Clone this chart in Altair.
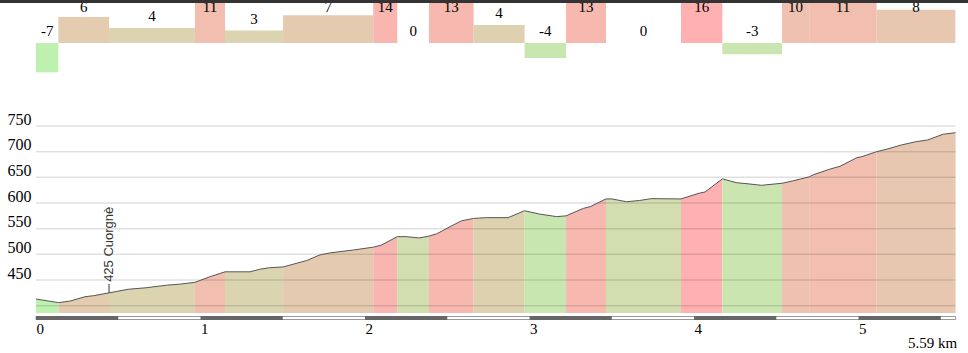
import altair as alt
import pandas as pd
import numpy as np

# ---- data ----
total_km = 5.59
seg_bounds = [0.0, 0.136, 0.444, 0.966, 1.149, 1.502, 2.05, 2.196, 2.389, 2.66,
              2.97, 3.222, 3.465, 3.921, 4.172, 4.535, 4.70, 5.11, 5.59]
grades = [-7.0, 6.2, 3.6, 11.0, 2.95, 6.6, 14.0, 0.0, 13.0, 4.3,
          -3.6, 13.0, 0.0, 16.0, -2.7, 10.0, 11.0, 7.9]

prof_km = [0.000, 0.136, 0.207, 0.298, 0.350, 0.444, 0.560, 0.670, 0.795, 0.875,
           0.966, 1.058, 1.149, 1.300, 1.360, 1.420, 1.502, 1.646, 1.726, 1.790,
           1.930, 2.050, 2.100, 2.196, 2.250, 2.330, 2.389, 2.436, 2.517, 2.588,
           2.660, 2.740, 2.870, 2.970, 3.060, 3.165, 3.222, 3.327, 3.370, 3.465,
           3.500, 3.590, 3.670, 3.740, 3.921, 4.030, 4.067, 4.172, 4.260, 4.340,
           4.410, 4.535, 4.600, 4.700, 4.725, 4.826, 4.887, 4.990, 5.020, 5.110,
           5.170, 5.260, 5.350, 5.420, 5.515, 5.590]
prof_elev = [413, 406, 409, 417.5, 419.5, 425, 432, 435, 440, 442,
             445.5, 456.5, 466, 466, 471, 474, 475.5, 488, 499, 503,
             508.5, 514, 518, 534.5, 534.5, 532, 535.5, 540, 554, 565.5,
             570, 571.5, 571.5, 585, 578.5, 573.5, 575, 589.5, 593, 608,
             608, 602.5, 605, 608.5, 608, 619, 621.5, 647, 639.5, 637,
             634.5, 638.5, 643, 651, 655, 666, 671.5, 688.3, 690.3, 700,
             704.7, 713, 719.5, 722.8, 734, 737]

elev_ticks = [400, 450, 500, 550, 600, 650, 700, 750]
elev_labels = [450, 500, 550, 600, 650, 700, 750]
km_ticks = [0, 1, 2, 3, 4, 5]

place_names = ["Cuorgnè"]
place_km = [0.444]
place_elev = [425]

# ---- tables ----
seg_df = pd.DataFrame({
    "start": seg_bounds[:-1],
    "end": seg_bounds[1:],
    "grade": grades,
})
seg_df["mid"] = (seg_df["start"] + seg_df["end"]) / 2
seg_df["label"] = [str(int(round(g))) for g in grades]

rows = []
for i, (a, b, g) in enumerate(zip(seg_bounds[:-1], seg_bounds[1:], grades)):
    for k, e in zip(prof_km, prof_elev):
        if a - 1e-9 <= k <= b + 1e-9:
            rows.append({"seg": i, "km": k, "elev": e, "grade": g})
area_df = pd.DataFrame(rows)
prof_df = pd.DataFrame({"km": prof_km, "elev": prof_elev})
grid_df = pd.DataFrame({"v": elev_ticks, "x0": 0.0, "x1": total_km})
place_df = pd.DataFrame({"km": place_km, "elev": place_elev, "name": place_names})
place_df["text"] = [f"{e} {n}" for e, n in zip(place_elev, place_names)]
place_df["top"] = place_df["elev"] + 17.5

sb_starts = np.arange(0, total_km, 1.0)
sb_df = pd.DataFrame({"a": sb_starts, "b": np.minimum(sb_starts + 0.5, total_km)})
sb_bg_df = pd.DataFrame({"a": [0.0], "b": [total_km]})
end_df = pd.DataFrame({"km": [total_km], "label": [f"{total_km} km"]})
dummy = pd.DataFrame({"k": [0]})

# ---- layout constants ----
W = 919.6
H = 313
ELEV_MIN = 385.8
ELEV_MAX = 995.4
BAR_MIN = -64.286
BAR_MAX = 10.238

X_SCALE = alt.Scale(domain=[0, total_km], nice=False, zero=False)
x_axis = alt.Axis(values=km_ticks, labelAlign="left", labelBaseline="top",
                  labelPadding=8, ticks=False, tickSize=0, domain=False,
                  grid=False, title=None, labelFont="Liberation Serif",
                  labelFontSize=15, labelColor="#000")
y_axis = alt.Axis(values=elev_labels, orient="left", labelAlign="left",
                  labelPadding=29, ticks=False, tickSize=0, domain=False,
                  grid=False, title=None, labelFont="Liberation Serif",
                  labelFontSize=16, labelColor="#000",
                  labelBaseline="alphabetic", labelOffset=-2)
color = alt.Color("grade:Q",
                  scale=alt.Scale(domain=[-12, 16], range=["#b0ffb0", "#ffb0b0"],
                                  interpolate="rgb", clamp=True),
                  legend=None)
bar_y = alt.Scale(domain=[BAR_MIN, BAR_MAX], nice=False, zero=False)
elev_y = alt.Scale(domain=[ELEV_MIN, ELEV_MAX], nice=False, zero=False)

# ---- gradient bars ----
bars = alt.Chart(seg_df).mark_rect(clip=True).encode(
    x=alt.X("start:Q", scale=X_SCALE, axis=x_axis),
    x2="end:Q",
    y=alt.Y("grade:Q", scale=bar_y, axis=None),
    y2=alt.datum(0),
    color=color,
)
bar_labels = alt.Chart(seg_df).transform_calculate(
    ly="min(max(datum.grade, 0), 5.6)"
).mark_text(dy=-12, baseline="middle", align="center",
            font="Liberation Serif", fontSize=15, color="#000").encode(
    x=alt.X("mid:Q", scale=X_SCALE, axis=x_axis),
    y=alt.Y("ly:Q", scale=bar_y, axis=None),
    text="label:N",
)
bar_group = alt.layer(bars, bar_labels)

# ---- elevation profile ----
area = alt.Chart(area_df).mark_area(interpolate="linear").encode(
    x=alt.X("km:Q", scale=X_SCALE, axis=x_axis),
    y=alt.Y("elev:Q", scale=elev_y, axis=y_axis, stack=None),
    y2=alt.datum(ELEV_MIN),
    detail="seg:N",
    color=color,
)
grid = alt.Chart(grid_df).mark_rule(color="#000", opacity=0.12, strokeWidth=1.5).encode(
    x=alt.X("x0:Q", scale=X_SCALE, axis=x_axis),
    x2="x1:Q",
    y=alt.Y("v:Q", scale=elev_y, axis=y_axis),
)
line = alt.Chart(prof_df).mark_line(color="#555", strokeWidth=1).encode(
    x=alt.X("km:Q", scale=X_SCALE, axis=x_axis),
    y=alt.Y("elev:Q", scale=elev_y, axis=y_axis),
)
place_tick = alt.Chart(place_df).mark_rule(color="#333", strokeWidth=1).encode(
    x=alt.X("km:Q", scale=X_SCALE, axis=x_axis),
    y=alt.Y("elev:Q", scale=elev_y, axis=y_axis),
    y2="top:Q",
)
place_text = alt.Chart(place_df).mark_text(
    angle=270, align="left", baseline="middle", dx=11,
    font="Liberation Sans", fontSize=13, color="#333"
).encode(
    x=alt.X("km:Q", scale=X_SCALE, axis=x_axis),
    y=alt.Y("elev:Q", scale=elev_y, axis=y_axis),
    text="text:N",
)
elev_group = alt.layer(area, grid, line, place_tick, place_text)

# ---- decorations: distance scale bar, end label, top rule ----
sb_bg = alt.Chart(sb_bg_df).mark_rect(fill="#fff", stroke="#999", strokeWidth=1).encode(
    x=alt.X("a:Q", scale=X_SCALE, axis=x_axis), x2="b:Q",
    y=alt.value(316.5), y2=alt.value(319.5),
)
sb_dark = alt.Chart(sb_df).mark_rect(color="#666").encode(
    x=alt.X("a:Q", scale=X_SCALE, axis=x_axis), x2="b:Q",
    y=alt.value(316), y2=alt.value(320),
)
end_label = alt.Chart(end_df).mark_text(
    align="right", baseline="alphabetic", dx=1.5,
    font="Liberation Serif", fontSize=15, color="#000"
).encode(
    x=alt.X("km:Q", scale=X_SCALE, axis=x_axis),
    y=alt.value(348),
    text="label:N",
)
top_rule = alt.Chart(dummy).mark_rule(color="#333", strokeWidth=3).encode(
    x=alt.value(-36), x2=alt.value(W + 12.4), y=alt.value(1.5),
)

chart = alt.layer(bar_group, elev_group, sb_bg, sb_dark, end_label, top_rule).resolve_scale(
    y="independent"
).properties(
    width=W, height=H,
    padding={"left": 36, "top": 0, "right": 12.4, "bottom": 40},
    autosize=alt.AutoSizeParams(type="none"),
    background="#ffffff",
).configure_view(stroke=None)

chart.save("out.html", embed_options={"renderer": "svg", "actions": False})
